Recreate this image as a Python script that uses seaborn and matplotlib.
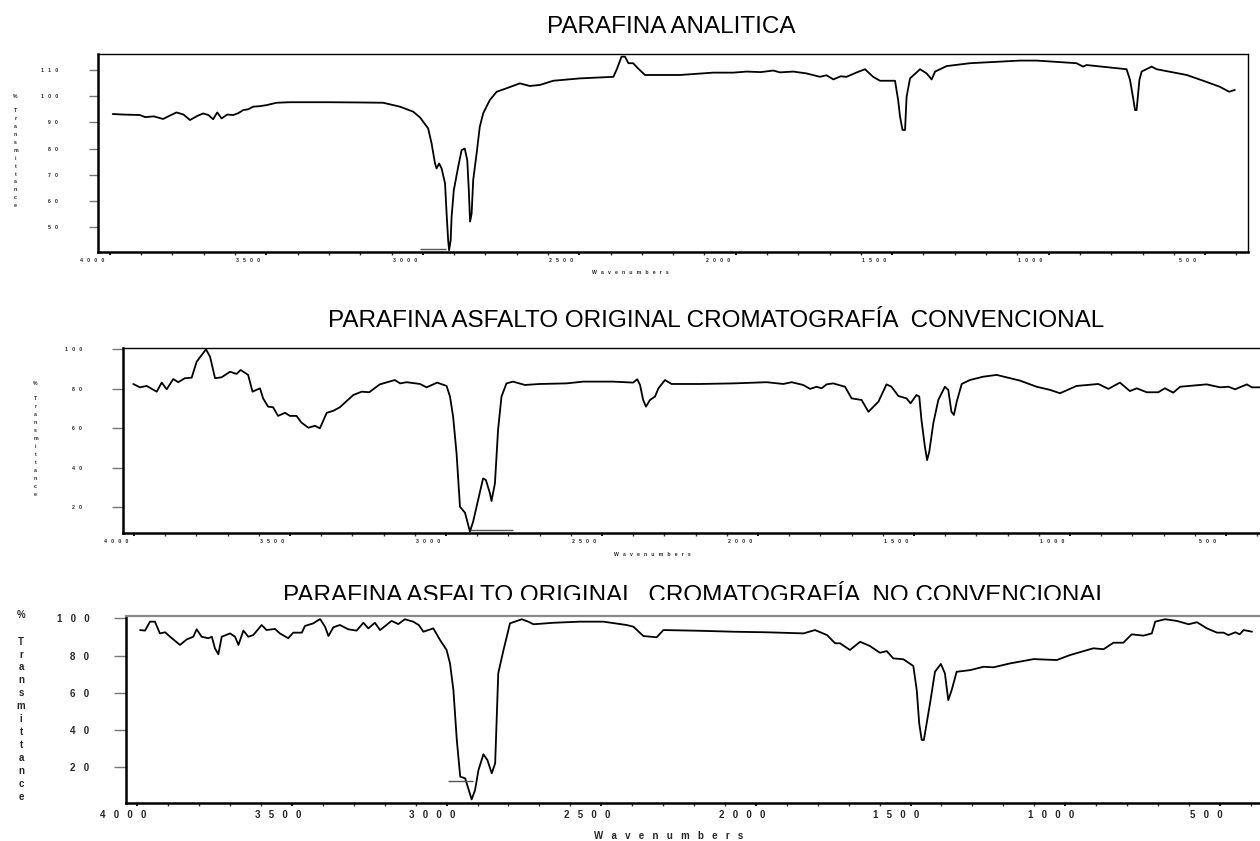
import numpy as np
import pandas as pd
import matplotlib
matplotlib.use("Agg")
import matplotlib.pyplot as plt
import seaborn as sns
from matplotlib.ticker import MultipleLocator
from matplotlib.transforms import ScaledTranslation
from matplotlib.patches import Rectangle

# ---------------- data ----------------
titles = [
    "PARAFINA ANALITICA",
    "PARAFINA ASFALTO ORIGINAL CROMATOGRAFÍA  CONVENCIONAL",
    "PARAFINA ASFALTO ORIGINAL  CROMATOGRAFÍA  NO CONVENCIONAL",
]
x_label = "Wavenumbers"
y_label = "Transmittance"
x_ticks = [4000, 3500, 3000, 2500, 2000, 1500, 1000, 500]
y_ticks_1 = [50, 60, 70, 80, 90, 100, 110]
y_ticks_2 = [20, 40, 60, 80, 100]
y_ticks_3 = [20, 40, 60, 80, 100]

wn_1 = [3991, 3960, 3930, 3904, 3887, 3860, 3830, 3810, 3787, 3765,
        3744, 3720, 3702, 3685, 3670, 3657, 3643, 3625, 3606, 3590,
        3574, 3558, 3542, 3520, 3499, 3467, 3425, 3300, 3200, 3127,
        3073, 3031, 3009, 2983, 2972, 2961, 2956, 2948, 2940, 2929,
        2924, 2919, 2916, 2911, 2908, 2901, 2887, 2876, 2866, 2858,
        2853, 2849, 2844, 2839, 2828, 2818, 2807, 2786, 2764, 2733,
        2690, 2658, 2626, 2583, 2498, 2391, 2379, 2365, 2354, 2343,
        2328, 2312, 2290, 2178, 2072, 2008, 1965, 1920, 1880, 1859,
        1816, 1774, 1731, 1710, 1688, 1665, 1646, 1615, 1587, 1561,
        1539, 1518, 1491, 1481, 1475, 1467, 1459, 1454, 1443, 1411,
        1390, 1374, 1363, 1326, 1251, 1092, 1038, 911, 890, 879,
        751, 740, 729, 724, 719, 710, 703, 671, 655, 559,
        506, 453, 423, 405]
tr_1 = [93.2, 93.0, 92.9, 92.8, 92.0, 92.3, 91.3, 92.5, 93.8, 93.0,
        90.9, 92.5, 93.4, 92.8, 91.2, 93.8, 91.5, 93.0, 92.8, 93.5,
        94.7, 95.0, 96.0, 96.2, 96.6, 97.5, 97.7, 97.7, 97.6, 97.5,
        96.0, 94.1, 91.9, 87.7, 82.0, 74.3, 72.4, 74.3, 72.4, 66.7,
        55.2, 45.0, 41.2, 45.0, 54.0, 64.1, 73.0, 79.4, 80.0, 75.6,
        64.1, 52.1, 55.2, 68.0, 78.2, 88.3, 93.5, 98.5, 101.7, 103.0,
        104.9, 103.9, 104.3, 105.9, 106.8, 107.4, 110.6, 115.1, 115.1, 112.6,
        112.6, 110.6, 108.1, 108.1, 109.0, 109.0, 109.4, 109.2, 109.8, 109.1,
        109.4, 108.7, 107.4, 108.0, 106.4, 107.6, 107.4, 109.0, 110.3, 107.4,
        105.9, 105.9, 105.9, 98.5, 92.2, 87.1, 87.1, 99.8, 106.8, 110.3,
        108.7, 106.4, 109.4, 111.5, 112.6, 113.6, 113.6, 112.6, 111.3, 111.9,
        110.3, 106.2, 98.5, 94.7, 94.7, 106.2, 109.4, 111.3, 110.3, 108.1,
        105.9, 103.6, 101.7, 102.4]

wn_2 = [4002, 3981, 3959, 3927, 3911, 3895, 3874, 3858, 3837, 3815,
        3799, 3769, 3756, 3740, 3719, 3692, 3671, 3658, 3634, 3620,
        3596, 3586, 3570, 3554, 3538, 3516, 3500, 3479, 3463, 3441,
        3420, 3404, 3382, 3361, 3340, 3297, 3270, 3246, 3212, 3164,
        3147, 3126, 3083, 3062, 3028, 2998, 2987, 2977, 2966, 2955,
        2939, 2923, 2913, 2897, 2881, 2872, 2859, 2854, 2843, 2833,
        2822, 2806, 2785, 2747, 2699, 2614, 2560, 2464, 2400, 2387,
        2378, 2368, 2359, 2346, 2330, 2319, 2298, 2277, 2186, 2079,
        1972, 1919, 1892, 1855, 1833, 1812, 1796, 1780, 1759, 1721,
        1700, 1668, 1646, 1614, 1588, 1572, 1550, 1524, 1511, 1492,
        1483, 1476, 1465, 1458, 1451, 1438, 1422, 1401, 1390, 1380,
        1372, 1363, 1347, 1321, 1278, 1235, 1160, 1107, 1064, 1032,
        979, 909, 877, 840, 808, 786, 754, 717, 696, 669,
        647, 562, 519, 492, 471, 433, 417, 391]
tr_2 = [82.4, 80.7, 81.4, 78.5, 83.1, 79.7, 84.9, 83.3, 85.3, 85.6,
        93.7, 100.0, 96.2, 85.3, 85.8, 88.6, 87.5, 89.5, 87.0, 78.5,
        80.2, 75.1, 70.9, 70.6, 66.2, 67.8, 66.2, 66.2, 62.8, 60.2,
        61.2, 59.9, 67.8, 68.8, 70.6, 76.8, 78.5, 78.2, 82.2, 84.4,
        82.7, 83.3, 82.4, 80.7, 83.1, 81.4, 76.0, 65.8, 47.2, 20.1,
        17.1, 7.5, 12.5, 23.5, 34.5, 33.7, 26.9, 23.0, 32.0, 59.1,
        76.0, 82.7, 83.6, 81.9, 82.4, 82.7, 83.6, 83.6, 83.1, 84.8,
        81.9, 74.3, 70.9, 74.3, 76.0, 80.2, 84.4, 82.4, 82.4, 82.7,
        83.3, 82.4, 83.3, 81.9, 79.9, 81.0, 80.2, 82.2, 82.7, 81.0,
        75.1, 74.3, 68.3, 73.4, 82.2, 81.0, 76.3, 75.1, 72.6, 76.8,
        76.0, 64.1, 50.6, 43.8, 48.0, 62.5, 74.3, 81.0, 79.4, 68.3,
        66.7, 73.4, 82.4, 84.4, 86.1, 87.0, 84.1, 81.0, 79.4, 77.7,
        81.4, 82.4, 79.9, 83.1, 78.8, 80.2, 78.2, 78.2, 80.2, 78.0,
        81.0, 82.2, 80.7, 81.0, 79.7, 82.2, 80.7, 80.7]

wn_3 = [3991, 3975, 3959, 3943, 3927, 3910, 3894, 3862, 3840, 3819,
        3808, 3792, 3770, 3759, 3749, 3738, 3727, 3700, 3684, 3673,
        3657, 3641, 3625, 3598, 3582, 3555, 3539, 3512, 3496, 3468,
        3458, 3431, 3409, 3393, 3382, 3366, 3345, 3318, 3291, 3269,
        3253, 3232, 3215, 3178, 3156, 3135, 3108, 3090, 3075, 3043,
        3021, 3000, 2989, 2978, 2967, 2956, 2940, 2930, 2919, 2908,
        2897, 2881, 2868, 2854, 2843, 2833, 2816, 2795, 2757, 2736,
        2719, 2655, 2569, 2493, 2418, 2396, 2364, 2321, 2299, 2180,
        2072, 1965, 1846, 1809, 1770, 1744, 1728, 1696, 1663, 1631,
        1599, 1577, 1556, 1523, 1491, 1480, 1472, 1464, 1457, 1448,
        1437, 1421, 1402, 1389, 1378, 1367, 1351, 1307, 1264, 1232,
        1178, 1102, 1027, 984, 909, 876, 844, 812, 785, 747,
        720, 709, 677, 639, 601, 574, 542, 509, 488, 472,
        450, 436, 423, 396]
tr_3 = [93.7, 93.4, 98.2, 98.2, 91.9, 92.5, 90.1, 85.7, 88.7, 90.1,
        94.1, 90.1, 89.3, 90.1, 83.9, 80.7, 90.1, 91.9, 90.1, 85.7,
        93.4, 90.1, 91.0, 96.4, 93.7, 94.3, 91.9, 89.3, 92.3, 92.3,
        95.9, 97.3, 99.6, 95.5, 90.5, 95.2, 96.4, 94.1, 93.4, 97.6,
        94.6, 97.6, 93.7, 98.6, 96.9, 99.5, 98.2, 96.4, 92.8, 94.6,
        88.3, 83.0, 75.8, 61.5, 34.7, 15.0, 14.1, 8.7, 2.8, 7.8,
        18.5, 27.0, 23.9, 16.8, 22.1, 70.5, 83.0, 97.3, 99.5, 98.2,
        96.8, 97.6, 98.2, 98.2, 96.4, 95.5, 90.5, 89.8, 93.7, 93.3,
        92.8, 92.5, 91.9, 93.7, 91.0, 86.6, 86.6, 83.0, 87.4, 85.1,
        81.5, 82.4, 78.5, 78.0, 74.4, 61.5, 43.6, 34.7, 34.7, 43.6,
        54.4, 71.3, 75.5, 70.5, 56.1, 61.5, 71.3, 72.2, 74.0, 73.7,
        75.8, 78.1, 77.6, 80.3, 83.9, 83.4, 86.9, 86.9, 91.4, 90.7,
        91.9, 98.2, 99.5, 98.6, 96.8, 97.9, 94.6, 92.3, 92.3, 91.0,
        92.5, 91.4, 93.7, 92.8]

# short baseline markers drawn under the main peaks
mark_w0 = [3009, 2923, 2995]
mark_w1 = [2926, 2786, 2916]
mark_t = [41.5, 8.3, 12.6]

# ---------------- style ----------------
sns.set_style("white")
plt.rcParams["font.family"] = ["Liberation Sans", "DejaVu Sans"]

W, H = 1260, 841
fig = plt.figure(figsize=(12.6, 8.41), dpi=100)
fig.patch.set_facecolor("white")


def fx(px):
    return px / W


def fy(py):
    return 1 - py / H


def axes_px(x0, y0, x1, y1):
    return fig.add_axes([fx(x0), fy(y1), (x1 - x0) / W, (y1 - y0) / H])


def spaced(s, gap):
    return gap.join(str(s))


panels = [
    dict(box=(98, 54.3, 1248, 252), xlim=(4038, 363), ylim=(40.5, 116),
         yt=y_ticks_1, wn=wn_1, tr=tr_1, fs=3.7, gap="   ", ytl=6.5,
         ypad=22.3, xoff=-18, xpad=2.0, right=True, topc="black", toplw=1.0,
         title_xy=(547, 33.3), xlab_xy=(630, 272),
         ylab=dict(x=15.5, pct=96, first=110.7, step=7.92)),
    dict(box=(122.7, 348.3, 1263, 533), xlim=(4036, 381.4), ylim=(6.8, 100.5),
         yt=y_ticks_2, wn=wn_2, tr=tr_2, fs=3.7, gap="   ", ytl=7.7,
         ypad=21.6, xoff=-18, xpad=2.0, right=False, topc="black", toplw=1.0,
         title_xy=(328.3, 326.7), xlab_xy=(652, 554),
         ylab=dict(x=35.5, pct=383.3, first=399, step=7.92)),
    dict(box=(125.7, 615.7, 1263, 803.3), xlim=(4037.5, 360.5), ylim=(0.7, 101.4),
         yt=y_ticks_3, wn=wn_3, tr=tr_3, fs=7.0, gap="   ", ytl=9.0,
         ypad=17.3, xoff=-14, xpad=2.2, right=False, topc="#8a8a8a", toplw=1.6,
         title_xy=(283.3, 602), xlab_xy=(669, 836),
         ylab=dict(x=21, pct=615, first=641.7, step=12.9)),
]

for i, p in enumerate(panels):
    ax = axes_px(*p["box"])
    ax.set_facecolor("white")
    df = pd.DataFrame({"wavenumber": p["wn"], "T": p["tr"]})
    sns.lineplot(data=df, x="wavenumber", y="T", ax=ax, color="black",
                 linewidth=1.3, sort=False, estimator=None)
    ax.hlines(mark_t[i], mark_w0[i], mark_w1[i], color="#555555", linewidth=1.0)
    ax.set_xlim(*p["xlim"])
    ax.set_ylim(*p["ylim"])
    ax.set_xlabel("")
    ax.set_ylabel("")

    ax.set_xticks(x_ticks, labels=[spaced(t, p["gap"]) for t in x_ticks],
                  fontsize=p["fs"], fontweight="bold")
    ax.xaxis.set_minor_locator(MultipleLocator(100))
    ax.set_yticks(p["yt"], labels=[spaced(t, p["gap"]) for t in p["yt"]],
                  fontsize=p["fs"], fontweight="bold")
    ax.tick_params(axis="x", which="major", direction="out", length=2.5,
                   width=1.3, color="black", pad=p["xpad"], bottom=True)
    ax.tick_params(axis="x", which="minor", direction="out", length=1.8,
                   width=1.0, color="#333333", bottom=True)
    ax.tick_params(axis="y", which="major", direction="out", length=p["ytl"],
                   width=1.0, color="#777777", pad=p["ypad"], left=True)
    off = ScaledTranslation(p["xoff"] / 100.0, 0, fig.dpi_scale_trans)
    for lbl in ax.get_xticklabels():
        lbl.set_transform(lbl.get_transform() + off)

    for side in ["left", "bottom"]:
        ax.spines[side].set_color("black")
        ax.spines[side].set_linewidth(1.8)
    ax.spines["top"].set_color(p["topc"])
    ax.spines["top"].set_linewidth(p["toplw"])
    if p["right"]:
        ax.spines["right"].set_color("black")
        ax.spines["right"].set_linewidth(1.0)
    else:
        ax.spines["right"].set_visible(False)

    # title (drawn beneath the axes)
    tx, ty = p["title_xy"]
    fig.text(fx(tx), fy(ty), titles[i], ha="left", va="baseline",
             fontsize=17.5, color="black", zorder=-1)

    # x label
    lx, ly = p["xlab_xy"]
    fig.text(fx(lx), fy(ly), spaced(x_label, p["gap"]), ha="center",
             va="center", fontsize=p["fs"], fontweight="bold")

    # stacked y label
    yl = p["ylab"]
    fig.text(fx(yl["x"]), fy(yl["pct"]), "%", ha="center", va="center",
             fontsize=p["fs"], fontweight="bold")
    for k, ch in enumerate(y_label):
        fig.text(fx(yl["x"]), fy(yl["first"] + k * yl["step"]), ch,
                 ha="center", va="center", fontsize=p["fs"], fontweight="bold")

# white band that hides the lower part of the third title (below the axes layer)
fig.patches.append(Rectangle((0, fy(615.0)), 1, (615.0 - 599.5) / H,
                             transform=fig.transFigure, facecolor="white",
                             edgecolor="none", zorder=-0.5))

fig.savefig("out.png", dpi=100, facecolor="white")
